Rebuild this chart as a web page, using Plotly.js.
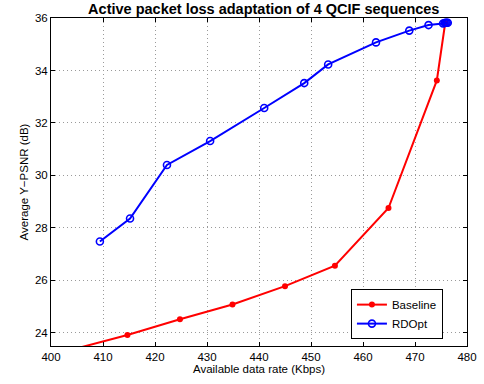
<!DOCTYPE html>
<html><head><meta charset="utf-8">
<script src="https://cdn.plot.ly/plotly-3.0.1.min.js"></script>
<style>body{margin:0;padding:0;background:#fff}#chart{width:484px;height:384px}</style>
</head><body><div id="chart"></div>
<script>
var baselineRate = [400.0, 414.7, 424.8, 434.9, 445.0, 454.6, 464.9, 474.2, 475.8];
var baselinePSNR = [23.15, 23.92, 24.52, 25.08, 25.78, 26.56, 28.76, 33.62, 35.80];
var rdoptRate = [409.4, 415.2, 422.3, 430.6, 441.0, 448.7, 453.3, 462.5, 468.9, 472.6, 475.4, 475.7, 475.9, 476.1, 476.3];
var rdoptPSNR = [27.48, 28.36, 30.40, 31.31, 32.57, 33.52, 34.23, 35.07, 35.52, 35.73, 35.79, 35.81, 35.82, 35.82, 35.82];
var xTicks = [400, 410, 420, 430, 440, 450, 460, 470, 480];
var yTicks = [24, 26, 28, 30, 32, 34, 36];

var font = "Liberation Sans, Arial, Helvetica, sans-serif";
var traces = [
  {x: baselineRate, y: baselinePSNR, name: 'Baseline', type: 'scatter', mode: 'lines+markers',
   line: {color: '#ff0000', width: 2}, marker: {color: '#ff0000', size: 6, symbol: 'circle'}},
  {x: rdoptRate, y: rdoptPSNR, name: 'RDOpt', type: 'scatter', mode: 'lines+markers',
   line: {color: '#0000ff', width: 2}, marker: {color: '#0000ff', size: 7, symbol: 'circle-open', line: {color: '#0000ff', width: 1.6}}}
];
var axisCommon = {
  showline: true, linecolor: '#000', linewidth: 1, mirror: 'ticks',
  ticks: 'inside', ticklen: 4, tickcolor: '#000',
  showgrid: true, gridcolor: '#9a9a9a', griddash: '1px,3px', gridwidth: 1,
  zeroline: false, tickfont: {family: font, size: 11.5, color: '#000'}
};
var layout = {
  width: 484, height: 384,
  margin: {l: 51, r: 17, t: 18, b: 38},
  paper_bgcolor: '#fff', plot_bgcolor: '#fff',
  title: {text: '<b>Active packet loss adaptation of 4 QCIF sequences</b>', font: {family: font, size: 14.5, color: '#000'},
          x: 0.545, xanchor: 'center', y: 0.977, yanchor: 'middle'},
  xaxis: Object.assign({}, axisCommon, {range: [400, 480], tickvals: xTicks, ticktext: xTicks.map(String),
          title: {text: 'Available data rate (Kbps)', font: {family: font, size: 11.5, color: '#000'}, standoff: 2}}),
  yaxis: Object.assign({}, axisCommon, {range: [23.5, 36], tickvals: yTicks, ticktext: yTicks.map(String),
          title: {text: 'Average Y\u2212PSNR (dB)', font: {family: font, size: 11.5, color: '#000'}, standoff: 3}}),
  showlegend: true,
  legend: {x: 0.721, y: 0.021, xanchor: 'left', yanchor: 'bottom', bgcolor: '#fff', bordercolor: '#000', borderwidth: 1,
           font: {family: font, size: 11.5, color: '#000'}, tracegroupgap: 0, itemwidth: 30}
};
Plotly.newPlot('chart', traces, layout, {displayModeBar: false, staticPlot: true});
</script></body></html>
